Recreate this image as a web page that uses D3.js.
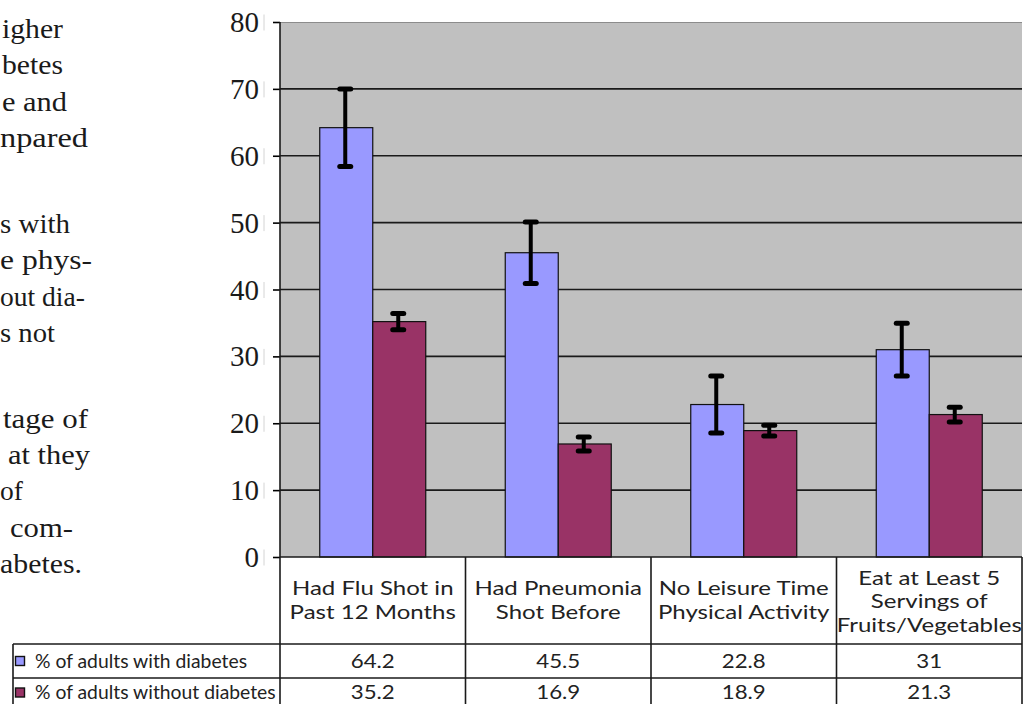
<!DOCTYPE html>
<html>
<head>
<meta charset="utf-8">
<script src="https://cdn.jsdelivr.net/npm/d3@7"></script>
<style>
  html, body { margin: 0; padding: 0; background: #fff; }
  svg { display: block; }
</style>
</head>
<body>
<script>
// ---------- data ----------
const categories = [
  ["Had Flu Shot in", "Past 12 Months"],
  ["Had Pneumonia", "Shot Before"],
  ["No Leisure Time", "Physical Activity"],
  ["Eat at Least 5", "Servings of", "Fruits/Vegetables"]
];
const seriesNames = ["% of adults with diabetes", "% of adults without diabetes"];
const withDiabetes = [64.2, 45.5, 22.8, 31];
const withoutDiabetes = [35.2, 16.9, 18.9, 21.3];
const errWith = [5.8, 4.6, 4.25, 3.95];
const errWithout = [1.2, 1.05, 0.8, 1.1];
const yTicks = [0, 10, 20, 30, 40, 50, 60, 70, 80];
const seriesColors = ["#9999FF", "#993366"];
// fragment of body text beside the chart (clipped at page edge)
const sideText = [
  ["igher", "betes", "e and", "npared"],
  ["s with", "e phys-", "out dia-", "s not"],
  ["tage of", "at they", "of", "com-", "abetes."]
];
const sideTextStarts = [2, 2, 2, 0, 0, 0, 0, 0, 3, 8, 0, 10, 0];
const sideTextEnds = [63, 63, 67, 88, 70, 92, 82, 55, 88, 90, 18, 73, 82];

// ---------- layout ----------
const W = 1023, H = 704;
const plotL = 280, plotR = 1022, plotT = 22, plotB = 557;
const row1B = 644, row2B = 678, tableB = 712, tableL = 13;

const svg = d3.select("body").append("svg").attr("width", W).attr("height", H);

const x0 = d3.scaleBand().domain(d3.range(categories.length))
  .range([plotL, plotR]).paddingInner(0.4286).paddingOuter(0.2143);
const x1 = d3.scaleBand().domain([0, 1]).range([0, x0.bandwidth()]);
const y = d3.scaleLinear().domain([0, 80]).range([plotB, plotT]);

// side text
(function () {
  const g = svg.append("g").attr("font-family", "'Liberation Serif', serif")
    .attr("font-size", 27).attr("fill", "#1a1a1a");
  let idx = 0;
  sideText.forEach((para, p) => {
    para.forEach((line) => {
      const x = sideTextStarts[idx];
      const t = g.append("text").attr("x", x).attr("y", 38 + idx * 36.3 + p * 49.7).text(line);
      const nat = t.node().getComputedTextLength();
      const w = Math.max(nat * 1.02, sideTextEnds[idx] - x);
      t.attr("textLength", w).attr("lengthAdjust", "spacingAndGlyphs");
      idx++;
    });
  });
})();

// plot background
svg.append("rect").attr("x", plotL).attr("y", plotT)
  .attr("width", plotR - plotL).attr("height", plotB - plotT).attr("fill", "#C0C0C0");
svg.append("line").attr("x1", plotL).attr("x2", plotR).attr("y1", plotT + 0.5).attr("y2", plotT + 0.5)
  .attr("stroke", "#8c8c8c").attr("stroke-width", 1);

// gridlines
svg.append("g").selectAll("line").data(yTicks.filter(d => d > 0 && d < 80)).join("line")
  .attr("x1", plotL).attr("x2", plotR)
  .attr("y1", d => y(d)).attr("y2", d => y(d))
  .attr("stroke", "#1a1a1a").attr("stroke-width", 1.6);

// bars
const series = [withDiabetes, withoutDiabetes];
const errs = [errWith, errWithout];
const barG = svg.append("g");
series.forEach((vals, s) => {
  barG.append("g").selectAll("rect").data(vals).join("rect")
    .attr("x", (d, i) => x0(i) + x1(s))
    .attr("y", d => y(d))
    .attr("width", x1.bandwidth())
    .attr("height", d => y(0) - y(d))
    .attr("fill", seriesColors[s])
    .attr("stroke", "#111").attr("stroke-width", 1.2);
});

// error bars
series.forEach((vals, s) => {
  const eg = svg.append("g").attr("stroke", "#000").attr("stroke-linecap", "round");
  vals.forEach((v, i) => {
    const cx = x0(i) + x1(s) + x1.bandwidth() / 2 - 1;
    const hi = y(v + errs[s][i]), lo = y(v - errs[s][i]);
    eg.append("line").attr("x1", cx).attr("x2", cx).attr("y1", hi).attr("y2", lo)
      .attr("stroke-width", 4).attr("stroke-linecap", "butt");
    [hi, lo].forEach(yy => {
      eg.append("line").attr("x1", cx - 5.5).attr("x2", cx + 5.5).attr("y1", yy).attr("y2", yy)
        .attr("stroke-width", 5);
    });
  });
});

// y axis
const yAxis = d3.axisLeft(y).tickValues(yTicks).tickSize(7).tickPadding(14).tickFormat(d3.format("d"));
const ax = svg.append("g").attr("transform", `translate(${plotL},0)`).call(yAxis);
ax.select(".domain").remove();
ax.selectAll(".tick line").attr("stroke", "#000").attr("stroke-width", 1.6);
ax.selectAll(".tick text").attr("font-family", "'Liberation Serif', serif")
  .attr("font-size", 29).attr("fill", "#1a1a1a").attr("dy", "0.33em");
ax.selectAll(".tick").append("line").attr("x1", -16).attr("x2", -16).attr("y1", -8).attr("y2", 8)
  .attr("stroke", "#d4d4d4").attr("stroke-width", 1);

// table lines
const tl = svg.append("g").attr("stroke", "#1a1a1a").attr("stroke-width", 1.6);
const bounds = d3.range(categories.length + 1).map(i => plotL + i * x0.step());
tl.append("line").attr("x1", plotL).attr("x2", plotL).attr("y1", plotT).attr("y2", tableB);
tl.append("line").attr("x1", plotL).attr("x2", plotR).attr("y1", plotB).attr("y2", plotB);
tl.append("line").attr("x1", tableL).attr("x2", plotR).attr("y1", row1B).attr("y2", row1B);
tl.append("line").attr("x1", tableL).attr("x2", plotR).attr("y1", row2B).attr("y2", row2B);
tl.append("line").attr("x1", tableL).attr("x2", tableL).attr("y1", row1B).attr("y2", tableB);
bounds.slice(1).forEach(bx => {
  tl.append("line").attr("x1", bx).attr("x2", bx).attr("y1", plotB).attr("y2", tableB);
});

// table text
const tt = svg.append("g").attr("font-family", "Lato, sans-serif").attr("font-size", 20)
  .attr("fill", "#222");
function measure(str) {
  const p = tt.append("text").text(str);
  const w = p.node().getComputedTextLength();
  p.remove();
  return w;
}
const kHead = 161.6 / measure(categories[0][0]);
const kLeg = 212 / measure(seriesNames[0]);
const kNum = 44 / measure(String(withDiabetes[0]));
function stretch(sel, k) {
  sel.each(function () {
    const w = this.getComputedTextLength();
    d3.select(this).attr("textLength", w * k).attr("lengthAdjust", "spacingAndGlyphs");
  });
  return sel;
}
categories.forEach((lines, i) => {
  const cx = x0(i) + x0.bandwidth() / 2;
  const n = lines.length;
  const first = n === 2 ? 595 : 584.5;
  lines.forEach((ln, j) => {
    stretch(tt.append("text").attr("x", cx).attr("y", first + j * 23.5)
      .attr("text-anchor", "middle").text(ln), kHead);
  });
});
series.forEach((vals, s) => {
  const base = s === 0 ? 667.5 : 698.5;
  const keyMid = s === 0 ? (row1B + row2B) / 2 : 692.5;
  svg.append("rect").attr("x", 15.5).attr("y", keyMid - 4.5).attr("width", 9).attr("height", 9)
    .attr("fill", seriesColors[s]).attr("stroke", "#111").attr("stroke-width", 1.4);
  stretch(tt.append("text").attr("x", 35).attr("y", base).text(seriesNames[s]), kLeg);
  vals.forEach((v, i) => {
    stretch(tt.append("text").attr("x", x0(i) + x0.bandwidth() / 2).attr("y", base)
      .attr("text-anchor", "middle").text(String(v)), kNum);
  });
});
</script>
</body>
</html>
